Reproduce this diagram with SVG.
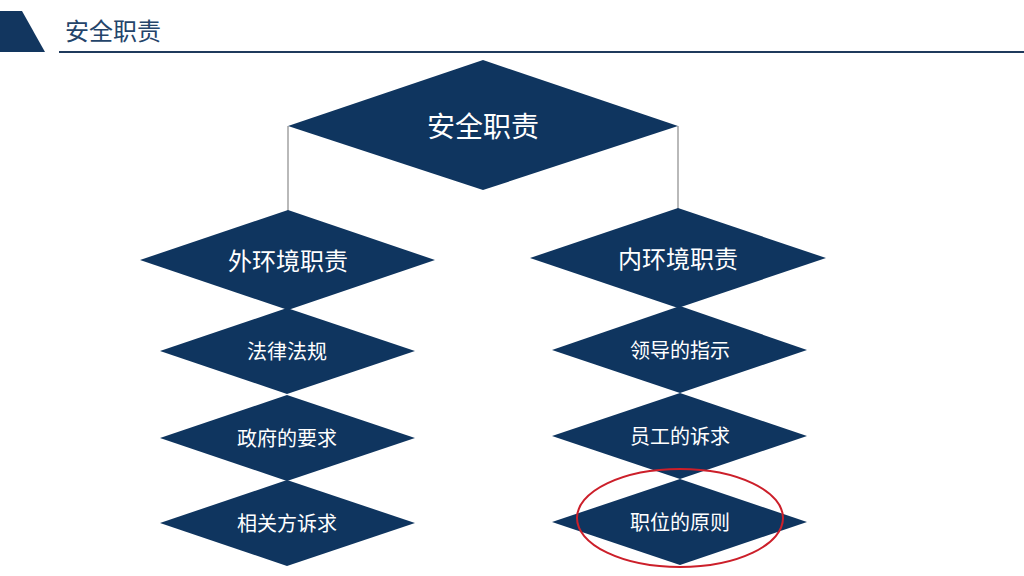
<svg xmlns="http://www.w3.org/2000/svg" width="1024" height="576" viewBox="0 0 1024 576">
<style>
.d{fill:#0f355f}
.t{fill:#ffffff;font-family:"Noto Sans CJK SC","Noto Sans",sans-serif;text-anchor:middle;dominant-baseline:central}
.c{stroke:#8a8a8a;stroke-width:1.2;fill:none}
</style>
<rect width="1024" height="576" fill="#ffffff"/>
<g id="header">
<polygon points="0,11 22,11 45,52 0,52" fill="#12365f"/>
<line x1="59" y1="52" x2="1024" y2="52" stroke="#1f3a5c" stroke-width="2"/>
<text x="65" y="29" font-family="Noto Sans CJK SC,sans-serif" font-size="24" fill="#24446a" dominant-baseline="central">安全职责</text>
</g>
<g id="connectors">
<line class="c" x1="288" y1="126" x2="288" y2="212"/>
<line class="c" x1="678" y1="126" x2="678" y2="210"/>
</g>
<g id="root"><polygon class="d" points="483,60 678,126 483,190 288,126"/><text class="t" x="483" y="125" font-size="28">安全职责</text></g>
<g id="outer"><polygon class="d" points="288,210 435,260 288,310 140,260"/><text class="t" x="288" y="259" font-size="24">外环境职责</text></g>
<g id="inner"><polygon class="d" points="678,208 826,258 678,308 530,258"/><text class="t" x="678" y="257" font-size="24">内环境职责</text></g>
<g id="law"><polygon class="d" points="287,308 415,351 287,394 160,351"/><text class="t" x="287" y="350" font-size="20">法律法规</text></g>
<g id="gov"><polygon class="d" points="287,395 415,438 287,481 160,438"/><text class="t" x="287" y="437" font-size="20">政府的要求</text></g>
<g id="party"><polygon class="d" points="287,480 415,523 287,566 160,523"/><text class="t" x="287" y="522" font-size="20">相关方诉求</text></g>
<g id="lead"><polygon class="d" points="680,306 807,350 680,393 552,350"/><text class="t" x="680" y="349" font-size="20">领导的指示</text></g>
<g id="staff"><polygon class="d" points="680,393 807,436 680,479 552,436"/><text class="t" x="680" y="435" font-size="20">员工的诉求</text></g>
<g id="post"><polygon class="d" points="680,479 807,522 680,565 552,522"/><text class="t" x="680" y="521" font-size="20">职位的原则</text></g>
<ellipse cx="680" cy="518" rx="103" ry="49" fill="none" stroke="#cc1f2a" stroke-width="2"/>
</svg>
